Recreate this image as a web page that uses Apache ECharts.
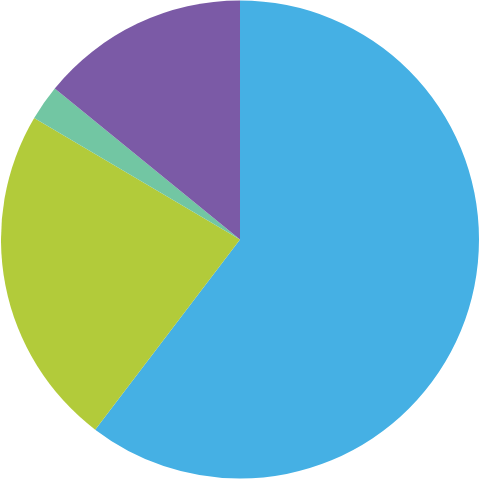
<!DOCTYPE html>
<html>
<head>
<meta charset="utf-8">
<script src="https://cdn.jsdelivr.net/npm/echarts@6/dist/echarts.min.js"></script>
<style>
	html, body { margin: 0; padding: 0; background: #fff; }
	#pie { width: 480px; height: 479px; }
</style>
</head>
<body>
<div id="pie"></div>
<script>
const names = ["A", "B", "C", "D"];
const values = [60.3, 23.1, 2.4, 14.1];
const colors = ["#45b0e4", "#b2cb3a", "#72c6a3", "#7b5aa6"];

let chart = echarts.init(document.getElementById("pie"));

let option = {
	animation: false,
	series: [
		{
			type: "pie",
			center: ["50%", "50%"],
			radius: 239,
			startAngle: 90,
			clockwise: true,
			label: { show: false },
			labelLine: { show: false },
			emphasis: { disabled: true },
			itemStyle: { borderWidth: 0 },
			data: names.map((n, i) => ({
				name: n,
				value: values[i],
				itemStyle: { color: colors[i] },
			})),
		},
	],
};

chart.setOption(option);
</script>
</body>
</html>
